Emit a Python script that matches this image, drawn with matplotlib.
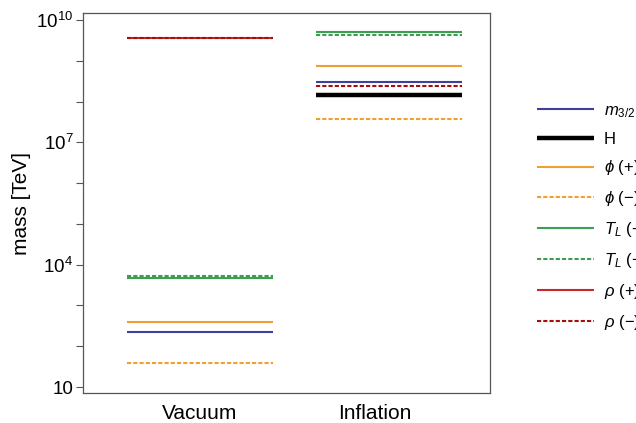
import matplotlib
matplotlib.use("Agg")
import matplotlib.pyplot as plt
import numpy as np

plt.rcParams['font.family'] = ['Liberation Sans', 'DejaVu Sans']
plt.rcParams['mathtext.fontset'] = 'custom'
plt.rcParams['mathtext.rm'] = 'Liberation Sans'
plt.rcParams['mathtext.it'] = 'Liberation Sans:italic'

# data: log10(mass / TeV) for each field, per phase
phases = ["Vacuum", "Inflation"]
labels = ["$m_{3/2}$", "H", "$\\phi$ (+)", "$\\phi$ (\u2212)",
          "$T_L$ (+)", "$T_L$ (\u2212)", "$\\rho$ (+)", "$\\rho$ (\u2212)"]
log_vacuum = [2.35, None, 2.59, 1.58, 3.67, 3.73, 9.55, 9.55]
log_inflation = [8.48, 8.17, 8.86, 7.58, 9.71, 9.62, None, 8.38]

colors = ["#3f3f9f", "black", "#f0a030", "#f0a030",
          "#3d9d50", "#3d9d50", "#c42a2a", "#a60e0e"]
styles = ["-", "-", "-", "--", "-", "--", "-", "--"]
widths = [1.5, 3.2, 1.5, 1.5, 1.5, 1.5, 1.5, 1.5]

centers = [0.287, 0.752]
half = 0.18

fig = plt.figure(figsize=(6.36, 4.23), dpi=100)
ax = fig.add_axes([0.1305, 0.0709, 0.6399, 0.8983])

for i, lab in enumerate(labels):
    first = True
    for c, vals in zip(centers, [log_vacuum, log_inflation]):
        v = vals[i]
        if v is None:
            continue
        kw = dict(color=colors[i], lw=widths[i], ls=styles[i],
                  label=lab if first else None, solid_capstyle='butt')
        if styles[i] == "--":
            kw['dashes'] = (2, 1)
        ax.plot([c - half, c + half], [10 ** v, 10 ** v], **kw)
        first = False

ax.set_yscale('log')
ax.set_ylim(10 ** 0.853, 10 ** 10.17)
ax.set_xlim(0, 1)
decades = np.arange(1, 11)
ax.yaxis.set_major_locator(matplotlib.ticker.FixedLocator(10.0 ** decades))
ax.yaxis.set_major_formatter(matplotlib.ticker.FixedFormatter(
    ["10" if d == 1 else ("$10^{%d}$" % d if d % 3 == 1 else "") for d in decades]))
ax.yaxis.set_minor_locator(matplotlib.ticker.NullLocator())
ax.tick_params(axis='y', direction='out', length=5, width=0.8, color='#555555',
               labelsize=13.5, pad=2)
ax.set_xticks([0.287, 0.717])
ax.set_xticklabels(phases, fontsize=15)
ax.tick_params(axis='x', length=0, pad=8)
for s in ax.spines.values():
    s.set_color('#555555')
    s.set_linewidth(0.9)

ax.set_ylabel("mass [TeV]", fontsize=15, labelpad=4)

ax.legend(loc='upper left', bbox_to_anchor=(1.095, 0.785), frameon=False,
          fontsize=12, handlelength=3.4, labelspacing=0.71, borderpad=0,
          handletextpad=0.6)

fig.savefig("out.png", dpi=100)
